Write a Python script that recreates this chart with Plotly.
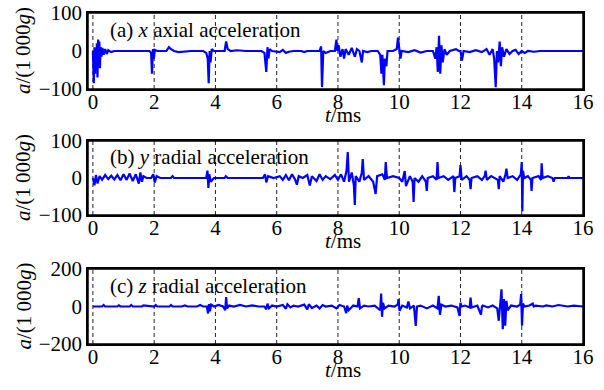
import plotly.graph_objects as go

# ---------------- data ----------------
T_X = [0.00, 0.03, 0.05, 0.07, 0.09, 0.11, 0.13, 0.15, 0.17, 0.19, 0.21, 0.23, 0.25, 0.28, 0.31, 0.35,
       0.40, 0.45, 0.50, 0.60, 0.70, 1.85, 1.90, 1.93, 1.96, 1.99, 2.02, 2.10, 2.40, 2.48, 2.55, 2.65,
       2.80, 3.00, 3.20, 3.60, 3.70, 3.75, 3.78, 3.81, 3.84, 3.88, 3.95, 4.30, 4.35, 4.40, 4.50, 4.70,
       5.00, 5.50, 5.60, 5.66, 5.70, 5.73, 5.77, 5.85, 6.10, 6.20, 6.30, 6.40, 6.55, 6.80, 6.90, 7.00,
       7.40, 7.45, 7.48, 7.52, 7.60, 7.75, 7.90, 7.95, 7.98, 8.02, 8.08, 8.15, 8.20, 8.25, 8.35, 8.45,
       8.55, 8.62, 8.70, 8.78, 8.82, 8.95, 9.10, 9.30, 9.38, 9.42, 9.45, 9.50, 9.53, 9.58, 9.62, 9.80,
       9.92, 9.96, 10.00, 10.04, 10.08, 10.30, 10.50, 10.70, 10.90, 11.10, 11.18, 11.22, 11.26, 11.30,
       11.34, 11.38, 11.42, 11.48, 11.55, 11.65, 11.85, 11.95, 12.00, 12.05, 12.10, 12.30, 12.50, 12.70,
       12.85, 12.95, 13.05, 13.10, 13.15, 13.19, 13.23, 13.28, 13.32, 13.36, 13.42, 13.50, 13.60, 13.70,
       13.80, 13.90, 14.00, 14.10, 14.20, 14.40, 14.60, 15.00, 16.00]
A_X = [0, -85, 10, -60, 5, -40, 20, -70, 30, -20, 25, -45, 10, -15, 8, -10,
       5, -8, 2, -3, 0, 0, -5, -60, 5, -20, 3, 0, 0, 10, 5, 0,
       -3, -2, 0, 0, -5, -20, -85, 0, -30, 5, 0, 0, 25, 5, 0, 2,
       0, 0, -5, -55, 10, -20, 5, 0, -3, 3, -5, -2, 0, 0, -3, 0,
       0, 12, -95, 0, -5, 0, 0, 30, 0, 15, -15, 5, -20, 5, -10, 8,
       -15, 5, 0, -30, 0, -3, 0, 0, -10, -60, -10, -90, -20, -40, 0, 0,
       5, 35, 0, -20, 0, -3, 2, -4, 0, 0, -20, 10, -55, 40,
       -60, 15, -30, 5, -10, 0, 5, 0, 0, -25, 0, -3, 2, -3,
       5, -10, 5, -20, -95, 0, -30, 25, -40, 10, -15, 5, -8, 0,
       3, -8, 0, -5, 0, -2, 0, 0, 0]

T_Y = [0.00, 0.05, 0.10, 0.15, 0.22, 0.30, 0.40, 0.50, 0.60, 0.70, 0.80, 0.90, 1.00, 1.10, 1.20, 1.30,
       1.40, 1.50, 1.55, 1.60, 1.65, 1.75, 1.90, 1.97, 2.02, 2.08, 2.20, 2.55, 2.60, 2.65, 3.70, 3.74,
       3.77, 3.80, 3.85, 3.95, 4.30, 4.34, 4.40, 5.55, 5.62, 5.66, 5.72, 5.90, 6.10, 6.20, 6.30, 6.40,
       6.50, 6.60, 6.66, 6.72, 6.85, 7.00, 7.08, 7.15, 7.30, 7.40, 7.50, 7.60, 7.75, 7.90, 8.00, 8.10,
       8.20, 8.28, 8.32, 8.36, 8.45, 8.52, 8.55, 8.58, 8.70, 8.78, 8.81, 8.85, 9.00, 9.15, 9.23, 9.28,
       9.45, 9.53, 9.56, 9.60, 9.80, 10.00, 10.10, 10.15, 10.18, 10.22, 10.35, 10.44, 10.47, 10.50, 10.63, 10.75,
       10.87, 10.90, 10.93, 11.10, 11.22, 11.25, 11.28, 11.45, 11.60, 11.77, 11.80, 11.83, 11.97, 12.00, 12.04, 12.20,
       12.30, 12.33, 12.36, 12.55, 12.70, 12.79, 12.82, 12.86, 13.00, 13.22, 13.25, 13.28, 13.40, 13.47, 13.50, 13.54,
       13.70, 13.85, 13.97, 14.00, 14.02, 14.04, 14.08, 14.20, 14.30, 14.32, 14.35, 14.55, 14.63, 14.65, 14.68, 14.85,
       15.00, 15.04, 15.08, 15.30, 15.50, 15.53, 15.56, 16.00]
A_Y = [0, -20, 8, -15, 5, -5, 8, -3, 6, -4, 8, -6, 10, -5, 12, -8,
       10, -15, 15, -10, 5, 0, 0, 10, -12, 5, 0, 0, 5, 0, 0, 20,
       -27, 10, -10, 0, 0, 5, 0, 0, 10, -12, 5, 0, 5, -5, 8, -6,
       10, -4, -18, 5, 0, 8, -20, 5, -8, 10, -5, 5, -3, 8, -5, 10,
       -10, 20, 70, -10, 15, -20, -73, 5, -10, 15, 51, -5, 5, -10, -43, 5,
       10, -5, 43, 0, 5, 0, -10, 10, 19, -22, 5, -10, -65, 0, -10, 5,
       -10, -35, 0, 5, -5, 43, 0, 5, -5, 5, -38, 0, 5, 35, -5, 5,
       -5, -30, 0, 5, -5, 5, 20, -5, 5, -5, -30, 5, -10, 10, 25, 0,
       5, -5, 10, 43, -90, 20, 0, 5, -5, -35, 0, 5, -5, 40, 0, 5,
       0, -10, 0, 0, 0, 5, 0, 0]

T_Z = [0.00, 0.30, 0.35, 0.40, 0.80, 0.85, 0.90, 1.20, 1.25, 1.30, 1.60, 1.65, 2.00, 2.05, 2.10, 2.50,
       2.55, 2.60, 2.90, 3.00, 3.10, 3.40, 3.50, 3.60, 3.72, 3.76, 3.79, 3.82, 3.86, 3.95, 4.10, 4.25,
       4.32, 4.35, 4.38, 4.45, 4.60, 4.80, 5.00, 5.20, 5.40, 5.60, 5.66, 5.70, 5.75, 5.85, 6.00, 6.20,
       6.30, 6.35, 6.45, 6.55, 6.70, 6.90, 7.00, 7.05, 7.15, 7.30, 7.40, 7.50, 7.60, 7.80, 7.95, 8.05,
       8.20, 8.27, 8.30, 8.35, 8.50, 8.64, 8.68, 8.72, 8.85, 9.00, 9.20, 9.38, 9.41, 9.44, 9.47, 9.52,
       9.65, 9.85, 9.95, 9.98, 10.01, 10.10, 10.25, 10.30, 10.35, 10.48, 10.54, 10.58, 10.70, 10.90, 11.10, 11.25,
       11.29, 11.33, 11.38, 11.50, 11.70, 11.90, 11.97, 12.00, 12.04, 12.15, 12.30, 12.33, 12.36, 12.55, 12.67, 12.70,
       12.73, 12.90, 13.05, 13.20, 13.25, 13.30, 13.34, 13.38, 13.42, 13.46, 13.50, 13.54, 13.65, 13.85, 13.95, 13.98,
       14.01, 14.04, 14.10, 14.25, 14.36, 14.39, 14.45, 14.70, 14.80, 15.00, 15.20, 15.50, 15.70, 16.00]
A_Z = [0, 0, 8, 0, 0, 6, 0, 0, 8, 0, 0, 6, 0, 8, 0, 0,
       8, 0, 0, 6, 0, 0, 8, 0, 0, -37, 13, -25, 10, 0, 8, 0,
       -20, 50, -10, 5, 0, 8, 0, 6, 0, 0, -15, 15, -10, 5, 0, 8,
       -12, 12, -5, 5, 0, 10, -15, 12, -8, 5, -10, 8, 0, 5, -10, 8,
       0, -35, 5, -20, 5, 0, 45, -10, 5, 0, 5, -20, 69, -55, 20, -10,
       5, 0, 10, 39, -23, 5, -5, 27, -10, 5, -103, 0, 5, -10, 5, -10,
       57, -44, 10, 0, 5, -5, -50, 20, 0, 5, -5, 48, -5, 5, -44, 0,
       5, -5, 5, -10, -76, 20, 92, -121, 40, -103, 30, -20, 5, 0, 10, 66,
       -103, 15, 0, 5, 15, 0, 5, 0, 6, 0, 8, 0, 5, 0]

SERIES = [("x", T_X, A_X), ("y", T_Y, A_Y), ("z", T_Z, A_Z)]
LABELS = ["(a) <i>x</i> axial acceleration",
          "(b) <i>y</i> radial acceleration",
          "(c) <i>z</i> radial acceleration"]
YLIMS = [100, 100, 200]
X_TICKS = [0, 2, 4, 6, 8, 10, 12, 14, 16]
VLINES = [0, 2, 4, 6, 8, 10, 12, 14]

# ---------------- layout ----------------
FONT = "Liberation Serif"
FS = 21
W, H = 604, 390
ML, MR, MT, MB = 88, 21, 13, 46
ph = H - MT - MB
PANELS = [(13, 89), (141, 215), (269, 344)]   # pixel rows (top, bottom)

def ydom(top, bot):
    return [(H - MB - bot) / ph, (H - MB - top) / ph]

fig = go.Figure()
layout = dict(
    width=W, height=H, margin=dict(l=ML, r=MR, t=MT, b=MB, autoexpand=False),
    plot_bgcolor="white", paper_bgcolor="white", showlegend=False,
    font=dict(family=FONT, size=FS, color="black"),
)
shapes = []
annotations = []
for i, ((name, t, a), lab, yl, (top, bot)) in enumerate(zip(SERIES, LABELS, YLIMS, PANELS)):
    k = "" if i == 0 else str(i + 1)
    dom = ydom(top, bot)
    fig.add_trace(go.Scatter(x=t, y=a, mode="lines", xaxis="x" + k, yaxis="y" + k,
                             line=dict(color="#0000ff", width=2.2), hoverinfo="skip"))
    layout["xaxis" + k] = dict(
        domain=[0, 1], anchor="y" + k, range=[-0.16, 16], tickvals=X_TICKS,
        showgrid=False, zeroline=False, automargin=False,
        showline=True, linecolor="black", linewidth=1.5, mirror=True,
        ticks="", ticklabelstandoff=-7,
        tickfont=dict(family=FONT, size=FS), fixedrange=True)
    layout["yaxis" + k] = dict(
        domain=dom, anchor="x" + k, range=[-yl, yl], tickvals=[-yl, 0, yl],
        ticktext=["\u2212%d" % yl, "0", "%d" % yl],
        showgrid=False, zeroline=False, automargin=False,
        showline=True, linecolor="black", linewidth=1.5, mirror=True, ticks="",
        tickfont=dict(family=FONT, size=FS), fixedrange=True)
    for v in VLINES:
        shapes.append(dict(type="line", xref="x" + k, yref="paper",
                           x0=v, x1=v, y0=dom[0], y1=dom[1],
                           line=dict(color="#222222", width=1, dash="4px,3px"), layer="below"))
    # frame (paper coordinates of the panel)
    shapes.append(dict(type="rect", xref="paper", yref="paper",
                       x0=0, x1=1, y0=dom[0], y1=dom[1], line=dict(color="black", width=1.5),
                       layer="above"))
    annotations.append(dict(xref="x" + k, yref="y" + k, x=0.5, y=0.56 * yl, text=lab,
                            showarrow=False, xanchor="left", yanchor="middle",
                            font=dict(family=FONT, size=FS)))
    annotations.append(dict(xref="paper", yref="paper", x=(343 - ML) / (W - ML - MR),
                            y=(H - MB - (bot + 26)) / ph, text="<i>t</i>/ms", showarrow=False,
                            xanchor="center", yanchor="middle", font=dict(family=FONT, size=FS)))
    annotations.append(dict(xref="paper", yref="paper", x=(23 - ML) / (W - ML - MR),
                            y=(H - MB - (top + bot) / 2) / ph, text="<i>a</i>/(1\u2009000<i>g</i>)",
                            textangle=-90, showarrow=False, xanchor="center", yanchor="middle",
                            font=dict(family=FONT, size=FS)))

layout["shapes"] = shapes
layout["annotations"] = annotations
fig.update_layout(**layout)
fig.write_html("out.html", config={"displayModeBar": False},
               post_script="document.body.style.margin='0';")
